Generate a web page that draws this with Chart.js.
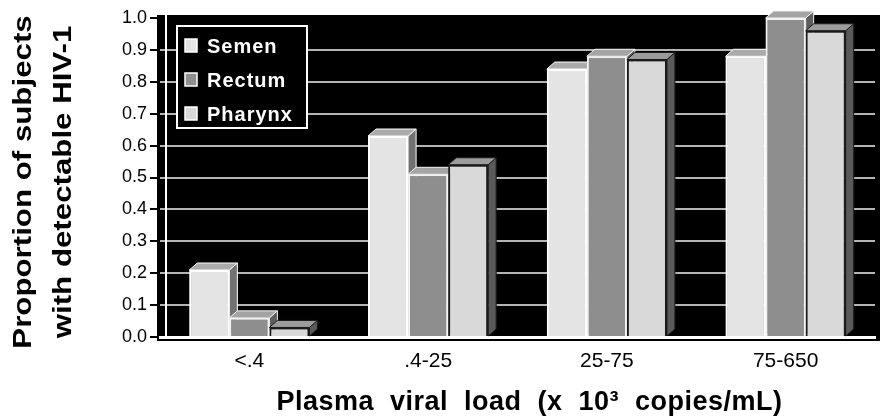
<!DOCTYPE html>
<html>
<head>
<meta charset="utf-8">
<script src="https://cdn.jsdelivr.net/npm/chart.js@4.4.0/dist/chart.umd.min.js"></script>
<style>
  html, body { margin: 0; padding: 0; background: #fff; }
  canvas { display: block; }
</style>
</head>
<body>
<canvas id="chart" width="887" height="417"></canvas>
<script>
/* data */
const categories = ['<.4', '.4-25', '25-75', '75-650']
const seriesNames = ['Semen', 'Rectum', 'Pharynx']
const semen = [0.21, 0.63, 0.84, 0.88]
const rectum = [0.06, 0.51, 0.88, 1.0]
const pharynx = [0.03, 0.54, 0.87, 0.96]
const yTickLabels = ['0.0', '0.1', '0.2', '0.3', '0.4', '0.5', '0.6', '0.7', '0.8', '0.9', '1.0']
const yTitle = ['Proportion of subjects', 'with detectable HIV-1']
const xTitle = 'Plasma viral load (x 10\u00b3 copies/mL)'

const FONT = "'Liberation Sans', Arial, Helvetica, sans-serif"

// front / top / side shades for each series
const fronts = ['#e4e4e4', '#8e8e8e', '#d9d9d9']
const edges = ['#ffffff', '#f2f2f2', '#1a1a1a']
const tops = ['#aaaaaa', '#a4a4a4', '#9c9c9c']
const sides = ['#727272', '#5e5e5e', '#5a5a5a']

/* black back wall + left wall edge */
const wallPlugin = {
	id: 'wall',
	beforeDraw(chart) {
		const { ctx, chartArea: a } = chart
		ctx.save()
		ctx.fillStyle = '#000'
		ctx.fillRect(a.left - 3, a.top - 3, a.right - a.left + 8, a.bottom - a.top + 7)
		ctx.restore()
	},
	beforeDatasetsDraw(chart) {
		const { ctx, chartArea: a } = chart
		ctx.save()
		ctx.strokeStyle = '#fff'
		ctx.lineWidth = 2
		ctx.beginPath()
		ctx.moveTo(a.left + 6, a.top - 3)
		ctx.lineTo(a.left + 6, a.bottom)
		ctx.stroke()
		ctx.restore()
	}
}

/* fake depth: top and side faces drawn from each bar element */
const depthPlugin = {
	id: 'depth',
	afterDatasetsDraw(chart) {
		const { ctx } = chart
		const dx = 8
		const dy = 7
		const n = chart.data.labels.length
		for (let i = 0; i < n; i++) {
			chart.data.datasets.forEach((ds, d) => {
				const bar = chart.getDatasetMeta(d).data[i]
				if (!bar) return
				const { x, y, base, width } = bar.getProps(['x', 'y', 'base', 'width'], true)
				const l = x - width / 2
				const r = x + width / 2
				ctx.save()
				ctx.lineWidth = 1
				ctx.strokeStyle = edges[d]
				// side
				ctx.beginPath()
				ctx.moveTo(r, y)
				ctx.lineTo(r + dx, y - dy)
				ctx.lineTo(r + dx, base - dy)
				ctx.lineTo(r, base)
				ctx.closePath()
				ctx.fillStyle = sides[d]
				ctx.fill()
				ctx.stroke()
				// top
				ctx.beginPath()
				ctx.moveTo(l, y)
				ctx.lineTo(l + dx, y - dy)
				ctx.lineTo(r + dx, y - dy)
				ctx.lineTo(r, y)
				ctx.closePath()
				ctx.fillStyle = tops[d]
				ctx.fill()
				ctx.stroke()
				ctx.restore()
				bar.draw(ctx)
			})
		}
	}
}

/* legend box and axis titles */
const textPlugin = {
	id: 'texts',
	afterDraw(chart) {
		const { ctx, chartArea: a } = chart
		ctx.save()

		// legend
		ctx.fillStyle = '#000'
		ctx.fillRect(177, 26, 130, 102)
		ctx.strokeStyle = '#fff'
		ctx.lineWidth = 2
		ctx.strokeRect(177, 26, 130, 102)
		const rowY = [46, 80, 114]
		chart.data.datasets.forEach((ds, d) => {
			ctx.fillStyle = ds.backgroundColor
			ctx.fillRect(185, rowY[d] - 7, 12, 13)
			ctx.strokeStyle = '#fff'
			ctx.lineWidth = 1.5
			ctx.strokeRect(185, rowY[d] - 7, 12, 13)
			ctx.fillStyle = '#fff'
			ctx.font = 'bold 20px ' + FONT
			ctx.letterSpacing = '1px'
			ctx.textAlign = 'left'
			ctx.textBaseline = 'middle'
			ctx.fillText(ds.label, 207, rowY[d] + 1)
		})
		ctx.letterSpacing = '0px'

		// y title, stretched along its length like the scan
		ctx.fillStyle = '#000'
		ctx.font = 'bold 25px ' + FONT
		ctx.textAlign = 'center'
		ctx.textBaseline = 'alphabetic'
		const baseX = [31, 71]
		yTitle.forEach((t, k) => {
			ctx.save()
			ctx.translate(baseX[k], 182)
			ctx.rotate(-Math.PI / 2)
			ctx.scale(1.25, 1)
			ctx.fillText(t, 0, 0)
			ctx.restore()
		})

		// x title
		ctx.font = 'bold 27px ' + FONT
		ctx.wordSpacing = '8px'
		ctx.letterSpacing = '0.5px'
		ctx.textAlign = 'center'
		ctx.fillText(xTitle, (a.left + a.right) / 2 + 12, 410)
		ctx.restore()
	}
}

new Chart(document.getElementById('chart'), {
	type: 'bar',
	data: {
		labels: categories,
		datasets: [semen, rectum, pharynx].map((vals, d) => ({
			label: seriesNames[d],
			data: vals,
			backgroundColor: fronts[d],
			borderColor: edges[d],
			borderWidth: 2,
			barPercentage: 1,
			categoryPercentage: 0.672
		}))
	},
	options: {
		responsive: false,
		animation: false,
		layout: { padding: { top: 18, right: 12, left: 0, bottom: 0 } },
		plugins: {
			legend: { display: false },
			tooltip: { enabled: false }
		},
		scales: {
			x: {
				afterFit(scale) { scale.height = 80 },
				grid: { display: false, drawTicks: false },
				border: { display: true, color: '#ffffff', width: 3 },
				ticks: {
					color: '#000',
					padding: 12,
					font: { family: FONT, size: 21 }
				}
			},
			y: {
				min: 0,
				max: 1,
				afterFit(scale) { scale.width = 160 },
				grid: {
					color: (c) => (c.tick && c.tick.value >= 0.999 ? 'rgba(0,0,0,0)' : (c.tick && c.tick.value === 0 ? '#ffffff' : '#b4b4b4')),
					lineWidth: 2,
					drawTicks: true,
					tickLength: 10,
					tickColor: '#000',
					tickWidth: 2
				},
				border: { display: false },
				ticks: {
					stepSize: 0.1,
					color: '#000',
					padding: 3,
					font: { family: FONT, size: 18 },
					callback: (v, i) => yTickLabels[i]
				}
			}
		}
	},
	plugins: [wallPlugin, depthPlugin, textPlugin]
})
</script>
</body>
</html>
